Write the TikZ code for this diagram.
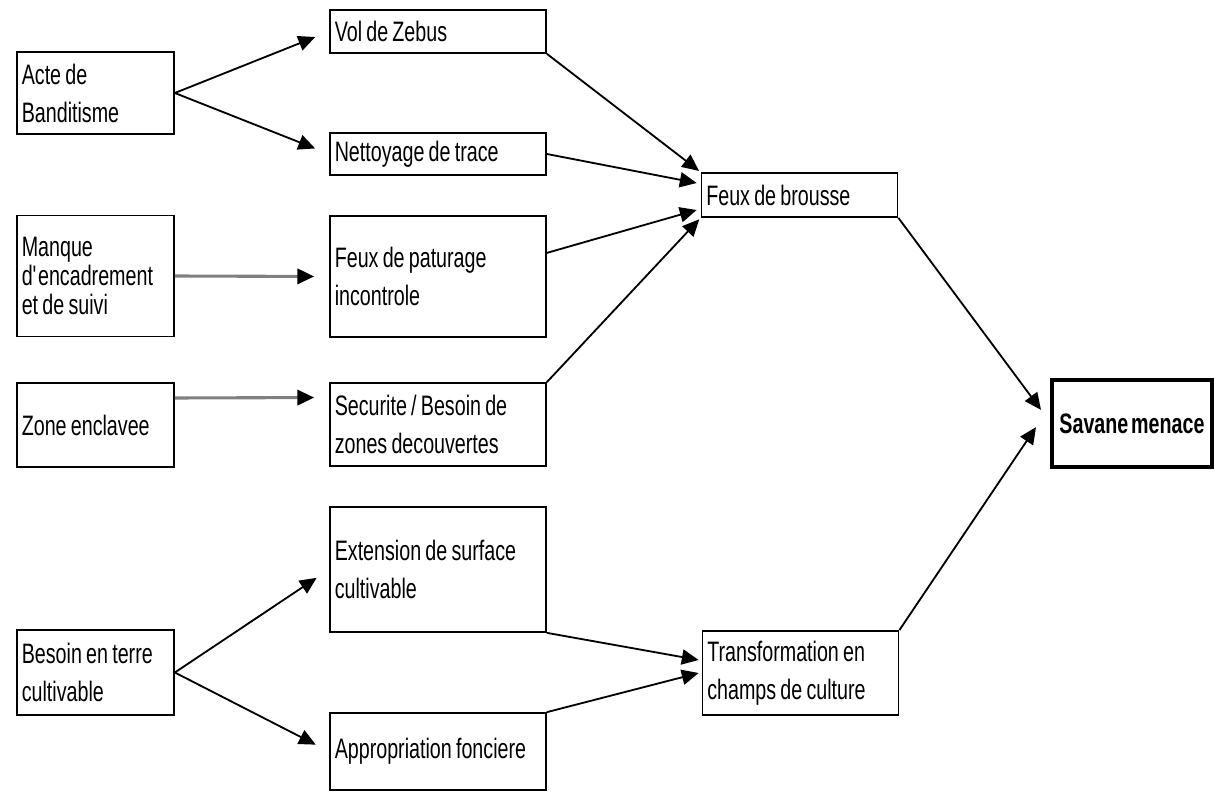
\documentclass[tikz,border=0pt]{standalone}
\usepackage{fontspec}
\setmainfont{Liberation Sans}[FakeStretch=0.7]
\usepackage{tikz}
\usetikzlibrary{arrows.meta}
\newcommand{\diagfont}[1]{\fontsize{20}{#1}\selectfont\spaceskip=0.1em plus 0.03em\relax}

\begin{document}
\begin{tikzpicture}[
        x=0.025cm, y=-0.025cm,
        box/.style={rectangle, draw=black, line width=1.2pt, align=left, inner xsep=0.12cm, inner ysep=0pt, font=\diagfont{27},
            execute at begin node={\spaceskip=0.15em plus 0.03em\xspaceskip=0.15em\relax}},
        boxL/.style={box, text width=3.685cm},
        boxM/.style={box, text width=5.16cm},
        boxR/.style={box, text width=4.66cm},
        goal/.style={rectangle, draw=black, line width=2.8pt, minimum width=4cm, minimum height=2.175cm, align=center, inner sep=0pt, font=\diagfont{27}\bfseries},
        arrow/.style={line width=1.3pt, -{Triangle[length=0.42cm, width=0.38cm, color=black]}},
        flat/.style={arrow, line width=2.2pt, draw=black!50}
    ]
        \useasboundingbox (0,0) rectangle (1214,794);

        % ===== causes =====
        \node (acte) [boxL, minimum height=2.05cm] at (95.5,93) {Acte de\\Banditisme};
        \node (manque) [boxL, minimum height=3.025cm, font=\diagfont{20.6}] at (95.5,276) {Manque\\d\textquotesingle encadrement\\et de suivi};
        \node (zone) [boxL, minimum height=2.1cm] at (95.5,425) {Zone enclavee};
        \node (besoin) [boxL, minimum height=2.125cm] at (95.5,672.5) {Besoin en terre\\cultivable};

        % ===== pratiques =====
        \node (vol) [boxM, minimum height=1.075cm] at (438,31.5) {Vol de Zebus};
        \node (nettoyage) [boxM, minimum height=1.05cm] at (438,154) {Nettoyage de trace};
        \node (paturage) [boxM, minimum height=3.025cm] at (438,276.5) {Feux de paturage\\incontrole};
        \node (securite) [boxM, minimum height=2.075cm] at (438,424.5) {Securite / Besoin de\\zones decouvertes};
        \node (extension) [boxM, minimum height=3.125cm] at (438,569.5) {Extension de surface\\cultivable};
        \node (appropriation) [boxM, minimum height=1.925cm] at (438,751.5) {Appropriation fonciere};

        % ===== effets =====
        \node (brousse) [boxR, minimum height=1.1cm] at (799.5,195) {Feux de brousse};
        \node (transfo) [boxR, minimum height=2.1cm] at (800.5,673) {Transformation en\\champs de culture};
        \node (savane) [goal] at (1132,423.5) {Savane menace};

        % ===== fleches =====
        % causes -> pratiques
        \draw [arrow, shorten >=0.375cm] (acte.east) -- (vol.west);
        \draw [arrow, shorten >=0.375cm] (acte.east) -- (nettoyage.west);
        \draw [flat, shorten >=0.375cm] (manque.east) -- (paturage.west);
        \draw [flat, shorten >=0.375cm] ([yshift=0.675cm]zone.east) -- ([yshift=0.675cm]securite.west);
        \draw [arrow, shorten >=0.375cm] (besoin.east) -- (extension.west);
        \draw [arrow, shorten >=0.375cm] (besoin.east) -- (appropriation.west);

        % pratiques -> feux de brousse
        \draw [arrow, shorten >=0.05cm] (vol.south east) -- (brousse.north west);
        \draw [arrow] (nettoyage.east) -- ([xshift=-0.1cm, yshift=0.3cm]brousse.west);
        \draw [arrow] ([yshift=0.59cm]paturage.east) -- ([xshift=-0.1cm, yshift=-0.375cm]brousse.west);
        \draw [arrow, shorten >=0.05cm] (securite.north east) -- (brousse.south west);

        % pratiques -> transformation
        \draw [arrow] (extension.south east) -- ([xshift=-0.075cm, yshift=0.325cm]transfo.west);
        \draw [arrow] (appropriation.north east) -- ([xshift=-0.075cm]transfo.west);

        % effets -> savane
        \draw [arrow] (brousse.south east) -- ([xshift=-0.225cm, yshift=0.34cm]savane.west);
        \draw [arrow] (transfo.north east) -- ([xshift=-0.35cm, yshift=-0.09cm]savane.west);

    \end{tikzpicture}
\end{document}
